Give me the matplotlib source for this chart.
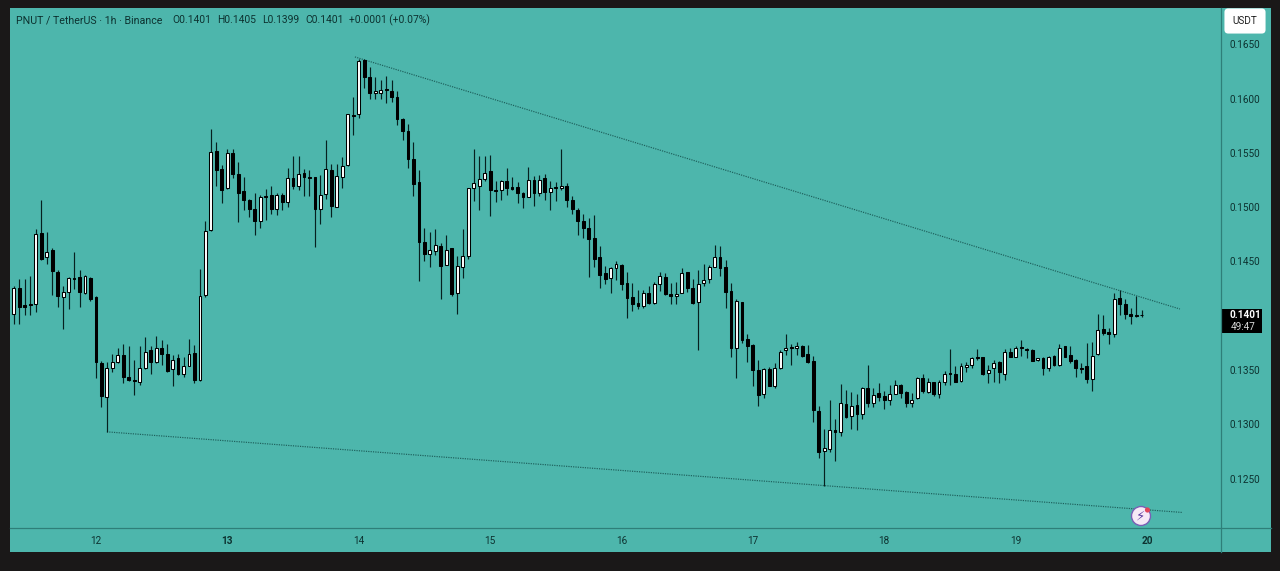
import numpy as np
import matplotlib
matplotlib.use("Agg")
import matplotlib.pyplot as plt
from matplotlib.lines import Line2D
from matplotlib.patches import Rectangle, FancyBboxPatch, Circle

W, H = 1280, 571

# prices in 0.0001 USDT, 1h candles, index 0 = day 12 00:00
first_index = -15
opens = [1402,1426,1410,1411,1411,1476,1454,1461,1440,1417,1422,1435,1436,1421,1435,
         1417,1356,1325,1352,1357,1364,1344,1341,1339,1352,1368,1357,1370,1365,1351,1361,1346,1354,1366,1341,1419,
         1479,1552,1535,1518,1550,1531,1515,1507,1498,1487,1510,1511,1498,1511,1505,1527,1520,1532,1528,1528,1498,1512,1534,1500,1528,1539,1585,1586,1636,1620,1605,1605,1609,1607,1602,1581,1570,
         1544,1523,1468,1457,1460,1464,1447,1462,1421,1445,1455,1518,1520,1526,1533,1516,1516,1524,1519,1519,1513,1509,1525,1513,1527,1514,1519,1518,1520,1507,1497,1487,1481,1472,1454,1439,1435,1444,1447,
         1430,1417,1412,1409,1421,1412,1429,1436,1420,1418,1421,1440,1426,1413,1430,1434,1445,1454,1445,1423,1370,1413,1379,1373,1350,1328,1351,1335,1352,1368,1371,1370,1372,1365,
         1358,1312,1275,1277,1295,1293,1319,1308,1318,1309,1333,1320,1329,1326,1322,1328,1336,1330,1320,1324,1343,1330,1339,1328,1339,1347,1346,1340,1353,1355,1362,1362,1347,1352,1357,
         1346,1367,1362,1371,1369,1368,1359,1361,1352,1363,1355,1372,1364,1359,1352,1354,1342,1365,1388,1385,1383,1416,1411,1402,1401,1401]
highs = [1427,1434,1434,1437,1480,1507,1477,1462,1442,1427,1436,1459,1442,1438,1436,
         1418,1358,1357,1365,1370,1374,1372,1359,1372,1380,1372,1381,1378,1374,1364,1365,1362,1379,1373,1443,1487,
         1572,1560,1539,1554,1554,1542,1528,1508,1513,1511,1517,1520,1513,1513,1536,1547,1547,1535,1534,1528,1530,1562,1540,1540,1546,1586,1602,1637,1637,1629,1620,1617,1621,1617,1607,1582,1577,
         1560,1534,1481,1477,1480,1467,1474,1462,1455,1480,1518,1554,1547,1547,1548,1524,1525,1536,1528,1523,1514,1537,1529,1530,1531,1524,1523,1554,1522,1510,1499,1494,1490,1493,1464,1446,1445,1450,1448,
         1440,1430,1424,1424,1427,1431,1440,1439,1430,1431,1444,1440,1434,1442,1448,1447,1465,1464,1451,1430,1415,1413,1383,1374,1359,1352,1353,1356,1368,1383,1374,1376,1373,1373,
         1363,1317,1296,1322,1305,1337,1332,1330,1328,1334,1355,1333,1338,1331,1336,1341,1337,1331,1329,1344,1346,1343,1339,1341,1349,1369,1354,1356,1357,1362,1369,1362,1355,1359,1358,
         1369,1370,1372,1378,1370,1369,1361,1362,1363,1364,1374,1372,1372,1360,1356,1375,1376,1402,1401,1389,1421,1424,1415,1407,1418,1405]
lows = [1392,1392,1401,1401,1403,1451,1448,1419,1408,1388,1406,1425,1408,1420,1414,
        1343,1316,1293,1348,1356,1338,1340,1327,1336,1351,1346,1356,1355,1348,1335,1345,1344,1354,1338,1340,1417,
        1478,1520,1504,1517,1527,1486,1497,1491,1474,1481,1488,1494,1493,1497,1500,1517,1516,1510,1510,1463,1485,1508,1491,1500,1518,1538,1567,1582,1610,1600,1600,1600,1596,1597,1576,1562,1536,
        1510,1432,1450,1445,1456,1415,1447,1418,1402,1435,1452,1506,1497,1524,1492,1505,1507,1511,1516,1504,1499,1509,1501,1510,1507,1497,1506,1516,1500,1494,1474,1472,1436,1445,1426,1429,1421,1433,1424,
        1398,1404,1406,1407,1411,1411,1423,1419,1411,1411,1421,1422,1411,1368,1427,1430,1445,1437,1407,1362,1343,1375,1357,1335,1317,1324,1335,1333,1351,1364,1355,1364,1362,1356,
        1302,1269,1243,1274,1266,1289,1306,1296,1295,1305,1316,1316,1321,1314,1318,1328,1324,1316,1316,1323,1329,1329,1326,1324,1336,1336,1339,1339,1348,1352,1359,1345,1338,1339,1338,
        1341,1362,1362,1363,1361,1358,1358,1345,1349,1354,1354,1362,1356,1344,1347,1338,1331,1364,1382,1374,1380,1401,1397,1392,1399,1399]
closes = [1426,1408,1408,1410,1475,1452,1459,1441,1418,1422,1435,1434,1422,1437,1415,
          1357,1326,1352,1357,1364,1344,1341,1340,1352,1367,1357,1370,1365,1349,1359,1346,1354,1365,1341,1418,1478,
          1551,1534,1516,1550,1531,1513,1507,1498,1487,1509,1509,1498,1511,1505,1527,1520,1531,1528,1527,1498,1511,1535,1501,1529,1538,1586,1584,1635,1620,1605,1607,1608,1608,1602,1581,1570,1544,
          1521,1468,1457,1461,1465,1446,1461,1420,1446,1455,1518,1522,1526,1532,1516,1515,1524,1518,1517,1513,1509,1525,1513,1525,1514,1518,1518,1520,1507,1498,1487,1481,1471,1452,1438,1434,1444,1448,1429,
          1416,1411,1409,1421,1412,1429,1437,1420,1418,1420,1439,1426,1412,1429,1433,1445,1454,1444,1422,1370,1414,1378,1372,1350,1327,1351,1335,1352,1367,1370,1370,1372,1363,1357,
          1313,1274,1278,1295,1293,1320,1307,1317,1309,1333,1320,1327,1325,1322,1328,1336,1329,1320,1322,1343,1331,1339,1328,1339,1346,1346,1339,1354,1355,1361,1361,1346,1350,1356,1348,
          1367,1362,1370,1370,1368,1358,1361,1352,1362,1355,1370,1362,1358,1352,1351,1342,1363,1387,1384,1383,1415,1411,1402,1400,1400,1401]

price_ticks = [0.1250, 0.1300, 0.1350, 0.1400, 0.1450, 0.1500, 0.1550, 0.1600, 0.1650]
day_labels = ["12", "13", "14", "15", "16", "17", "18", "19", "20"]

# trendlines: (candle index, price)
upper_trend = ([47.3, 198.0], [0.16385, 0.14062])
lower_trend = ([2.0, 198.5], [0.12930, 0.12187])

legend_parts = [(16, "PNUT / TetherUS · 1h · Binance"), (172, "O0.1401"), (217, "H0.1405"),
                (262, "L0.1399"), (305, "C0.1401"), (349, "+0.0001 (+0.07%)")]

PANE = "#4db6ac"
DARK = "#1a1818"
AXIS = "#2e7f79"
TEXT = "#0d3230"

plt.rcParams["font.family"] = ["Roboto", "DejaVu Sans"]

fig = plt.figure(figsize=(W / 100, H / 100), dpi=100, facecolor=DARK)


def fx(x):
    return x / W


def fy(y):
    return 1 - y / H


fig.add_artist(Rectangle((fx(10), fy(552)), 1261 / W, 544 / H, transform=fig.transFigure,
                         facecolor=PANE, edgecolor="none", zorder=-5))

ax = fig.add_axes([fx(10), fy(528), 1211 / W, 520 / H], facecolor="none")

o = np.array(opens) / 10000
h = np.array(highs) / 10000
l = np.array(lows) / 10000
c = np.array(closes) / 10000
idx = np.arange(first_index, first_index + len(o))

up = c >= o
ax.vlines(idx, l, h, color="#06201f", lw=0.85, zorder=2)
ax.bar(idx[up], (c - o)[up], bottom=o[up], width=0.52, color="white", edgecolor="black", linewidth=0.75, zorder=3)
ax.bar(idx[~up], (c - o)[~up], bottom=o[~up], width=0.52, color="black", edgecolor="black", linewidth=0.75, zorder=3)

ax.plot(*upper_trend, color="#1d5f5b", lw=0.85, ls=(0, (1, 1)), zorder=1)
ax.plot(*lower_trend, color="#1d5f5b", lw=0.85, ls=(0, (1, 1)), zorder=1)

ax.set_xlim(-15.7, 205.5)
ax.set_ylim(0.12044, 0.16836)

ax.yaxis.tick_right()
ax.set_yticks(price_ticks)
ax.set_yticklabels([f"{p:.4f}" for p in price_ticks])
ax.set_xticks(np.arange(len(day_labels)) * 24)
ax.set_xticklabels(day_labels)
ax.tick_params(axis="y", length=0, pad=6.3, labelsize=7.2, labelcolor=TEXT)
ax.tick_params(axis="x", length=0, pad=6, labelsize=7.2, labelcolor=TEXT)
for lab in ax.get_xticklabels():
    if lab.get_text() in ("13", "20"):
        lab.set_fontweight("bold")
for name, sp in ax.spines.items():
    sp.set_visible(False)

# axis lines run out into the scale areas
fig.add_artist(Line2D([fx(1221), fx(1221)], [fy(8), fy(552)], color=AXIS, lw=0.9))
fig.add_artist(Line2D([fx(10), fx(1271)], [fy(528), fy(528)], color=AXIS, lw=0.9))

for i, (x, s) in enumerate(legend_parts):
    fig.text(fx(x), fy(20), s, fontsize=7.7 if i == 0 else 7.4, color=TEXT, va="center", ha="left")

# USDT button
fig.add_artist(FancyBboxPatch((fx(1227), fy(31)), 36 / W, 20 / H, transform=fig.transFigure,
                              boxstyle="round,pad=0.002,rounding_size=0.003", facecolor="white",
                              edgecolor="none", mutation_aspect=W / H))
fig.text(fx(1245), fy(21), "USDT", fontsize=7.2, color="#222222", ha="center", va="center", zorder=5)

# last price tag
fig.add_artist(Rectangle((fx(1222), fy(333)), 40 / W, 24 / H, transform=fig.transFigure,
                         facecolor="black", edgecolor="none"))
fig.text(fx(1245), fy(315), f"{c[-1]:.4f}", fontsize=7.2, color="white", fontweight="bold",
         ha="center", va="center", zorder=5)
fig.text(fx(1243.5), fy(327), "49:47", fontsize=7.2, color="#d8d8d8", ha="center", va="center", zorder=5)

# flash badge near the bottom
fig.add_artist(Circle((1141, H - 516), 9.5, transform=None, facecolor="#f6e9f6", edgecolor="#7a5fb5", lw=1.0))
fig.add_artist(Circle((1147.5, H - 510), 2.6, transform=None, facecolor="#e0455a", edgecolor="none"))
fig.text(fx(1141), fy(516), "\u26a1", fontsize=9.5, color="#5b3a9e", ha="center", va="center",
         family="DejaVu Sans", zorder=6)

fig.savefig("out.png", dpi=100, facecolor=DARK)
